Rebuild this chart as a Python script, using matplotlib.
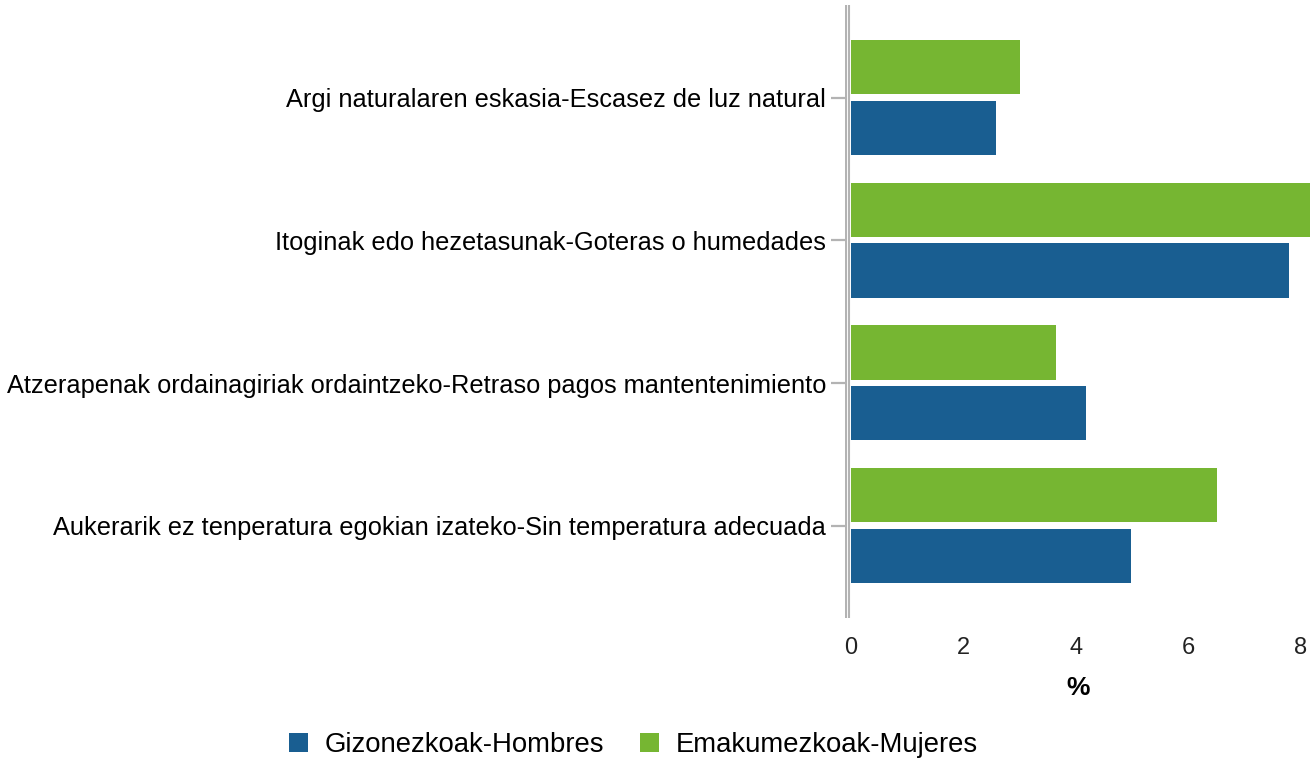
import matplotlib.pyplot as plt
import numpy as np

plt.rcParams['font.family'] = ['Liberation Sans', 'DejaVu Sans']

categories = [
    "Argi naturalaren eskasia-Escasez de luz natural",
    "Itoginak edo hezetasunak-Goteras o humedades",
    "Atzerapenak ordainagiriak ordaintzeko-Retraso pagos mantentenimiento",
    "Aukerarik ez tenperatura egokian izateko-Sin temperatura adecuada",
]
hombres = [2.58, 7.78, 4.18, 4.98]
mujeres = [3.0, 8.16, 3.65, 6.5]
series_labels = ["Gizonezkoak-Hombres", "Emakumezkoak-Mujeres"]

BLUE = "#195E91"
GREEN = "#76B632"
GRAY = "#b3b3b3"

fig = plt.figure(figsize=(13.15, 7.61), dpi=100)
ax = fig.add_axes([845 / 1315, 1 - 618 / 761, 466 / 1315, 613 / 761])

y = np.arange(len(categories))
h = 0.38
ax.barh(y + 0.21, hombres, h, color=BLUE, label=series_labels[0])
ax.barh(y - 0.215, mujeres, h, color=GREEN, label=series_labels[1])

ax.set_xlim(-0.105, 8.18)
ax.set_ylim(len(categories) - 1 + 0.645, -0.65)

for s in ax.spines.values():
    s.set_visible(False)
# double line for the category axis
ax.axvline(-0.09, color=GRAY, lw=1.5)
ax.axvline(-0.03, color=GRAY, lw=1.5)

ax.set_yticks(y, categories, fontsize=18.3)
ax.tick_params(axis='y', length=10, width=1.6, color=GRAY, pad=3.5)
ax.set_xticks([0, 2, 4, 6, 8], ["0", "2", "4", "6", "8"], fontsize=17, color="#222222")
ax.tick_params(axis='x', length=0, pad=14)
ax.set_xlabel("%", fontsize=19, fontweight="bold", labelpad=12)

handles, labels = ax.get_legend_handles_labels()
fig.legend(handles, labels, loc="center", bbox_to_anchor=(633 / 1315, 1 - 745 / 761),
           ncols=2, frameon=False, fontsize=19.8, handlelength=0.7, handleheight=0.7,
           handletextpad=0.6, columnspacing=1.3)

fig.savefig("out.png", dpi=100)
